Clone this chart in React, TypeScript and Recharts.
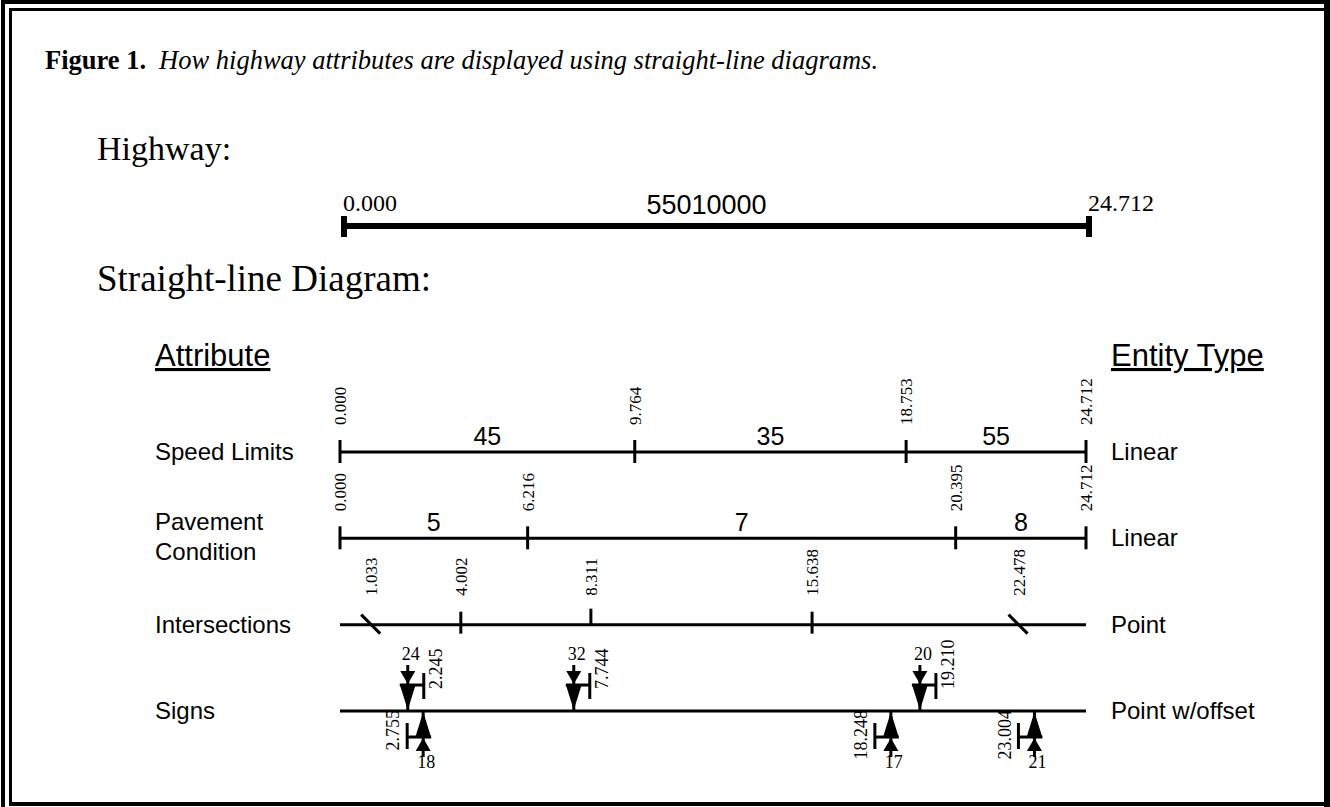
import React from 'react';
import { ComposedChart, Scatter, XAxis, YAxis, ReferenceLine } from 'recharts';

// ---------------- data ----------------
const titleLead = 'Figure 1.';
const titleText = 'How highway attributes are displayed using straight-line diagrams.';
const highwayId = '55010000';
const highwayEnds = [0, 24.712];

const attributeNames = ['Speed Limits', 'Pavement\nCondition', 'Intersections', 'Signs'];
const entityTypes = ['Linear', 'Linear', 'Point', 'Point w/offset'];

const speedBreaks = [0, 9.764, 18.753, 24.712];
const speedLimits = [45, 35, 55];
const pavementBreaks = [0, 6.216, 20.395, 24.712];
const pavementConditions = [5, 7, 8];
const intersectionMiles = [1.033, 4.002, 8.311, 15.638, 22.478];
const intersectionKinds = ['skew', 'cross', 'tee', 'cross', 'skew'];
const signMiles = [2.245, 2.755, 7.744, 18.248, 19.21, 23.004];
const signIds = [24, 18, 32, 17, 20, 21];
const signSides = ['above', 'below', 'above', 'below', 'above', 'below'];

// ---------------- derived tables ----------------
const ROW_SPEED = 0, ROW_PAVE = 1, ROW_INT = 2, ROW_SIGN = 3;
const routeStart = highwayEnds[0];
const routeEnd = highwayEnds[1];

const breakPoints = (breaks: number[], row: number) =>
  breaks.map((m) => ({ x: m, y: row, label: m.toFixed(3) }));
const segmentLabels = (breaks: number[], values: number[], row: number) =>
  values.map((v, i) => ({ x: (breaks[i] + breaks[i + 1]) / 2, y: row, label: String(v) }));

const speedPts = breakPoints(speedBreaks, ROW_SPEED);
const pavePts = breakPoints(pavementBreaks, ROW_PAVE);
const segLabels = [
  ...segmentLabels(speedBreaks, speedLimits, ROW_SPEED),
  ...segmentLabels(pavementBreaks, pavementConditions, ROW_PAVE),
];
const intPts = intersectionMiles.map((m, i) => ({ x: m, y: ROW_INT, label: m.toFixed(3), kind: intersectionKinds[i] }));
const signPts = signMiles.map((m, i) => ({ x: m, y: ROW_SIGN, label: m.toFixed(3), id: signIds[i], side: signSides[i] }));
const hwEndPts = highwayEnds.map((m) => ({ x: m, y: 0, label: m.toFixed(3) }));
const hwIdPt = [{ x: (highwayEnds[0] + highwayEnds[1]) / 2, y: 0, label: highwayId }];

// ---------------- styles ----------------
const SERIF = '"Liberation Serif", "Times New Roman", serif';
const SANS = '"Liberation Sans", Arial, sans-serif';
const W = 1330;
const H = 807;
const ROW_FONT = 24;

const RotLabel = ({ x, y, text, anchor = 'start', size = 17 }: any) => (
  <text
    x={x}
    y={y}
    transform={`rotate(-90 ${x} ${y})`}
    dy="0.35em"
    textAnchor={anchor}
    fontFamily={SERIF}
    fontSize={size}
    fill="#000"
  >
    {text}
  </text>
);

const BreakTick = (p: any) => {
  const { cx, cy, payload } = p;
  return (
    <g>
      <line x1={cx} x2={cx} y1={cy - 12} y2={cy + 11} stroke="#000" strokeWidth={3} />
      <RotLabel x={cx} y={cy - 27} text={payload.label} />
    </g>
  );
};

const SegLabel = (p: any) => {
  const { cx, cy, payload } = p;
  return (
    <text x={cx} y={cy - 7} textAnchor="middle" fontFamily={SANS} fontSize={25} fill="#000">
      {payload.label}
    </text>
  );
};

const IntTick = (p: any) => {
  const { cx, cy, payload } = p;
  let mark;
  if (payload.kind === 'skew') {
    mark = <line x1={cx - 10} y1={cy - 10} x2={cx + 9} y2={cy + 9} stroke="#000" strokeWidth={3} />;
  } else if (payload.kind === 'tee') {
    mark = <line x1={cx} x2={cx} y1={cy - 16} y2={cy} stroke="#000" strokeWidth={3} />;
  } else {
    mark = <line x1={cx} x2={cx} y1={cy - 13} y2={cy + 9} stroke="#000" strokeWidth={3} />;
  }
  return (
    <g>
      {mark}
      <RotLabel x={cx} y={cy - 29} text={payload.label} />
    </g>
  );
};

const SignMark = (p: any) => {
  const { cx, cy, payload } = p;
  const s = payload.side === 'below' ? 1 : -1; // away from line
  const Y = (t: number) => cy + s * t;
  const barX = cx - s * 16;
  const tri = (tip: number, base: number, hw: number) =>
    `${cx},${Y(tip)} ${cx - hw},${Y(base)} ${cx + hw},${Y(base)}`;
  return (
    <g>
      <line x1={cx} x2={cx} y1={Y(1)} y2={Y(46)} stroke="#000" strokeWidth={3} />
      <polygon points={tri(1, 25, 7.5)} fill="#000" />
      <polygon points={tri(27, 40, 7.5)} fill="#000" />
      <line x1={cx + s * 8} x2={barX} y1={Y(26)} y2={Y(26)} stroke="#000" strokeWidth={3} />
      <line x1={barX} x2={barX} y1={Y(12)} y2={Y(38)} stroke="#000" strokeWidth={3} />
      {s < 0 ? (
        <RotLabel x={cx + 28} y={cy - 22} text={payload.label} anchor="start" size={18} />
      ) : (
        <RotLabel x={cx - 30} y={cy - 1} text={payload.label} anchor="end" size={18} />
      )}
      <text
        x={cx + 3}
        y={s < 0 ? cy - 51 : cy + 57}
        textAnchor="middle"
        fontFamily={SERIF}
        fontSize={18}
        fill="#000"
      >
        {payload.id}
      </text>
    </g>
  );
};

const HwEnd = (p: any) => {
  const { cx, cy, payload } = p;
  return (
    <g>
      <rect x={cx - 3} y={cy - 10} width={6} height={21} fill="#000" />
      <text x={cx - 1} y={cy - 15} fontFamily={SERIF} fontSize={24} fill="#000">
        {payload.label}
      </text>
    </g>
  );
};

const HwId = (p: any) => {
  const { cx, cy, payload } = p;
  return (
    <text x={cx - 10} y={cy - 12} textAnchor="middle" fontFamily={SANS} fontSize={27} fill="#000">
      {payload.label}
    </text>
  );
};

// Row labels: attribute on the left, entity type on the right, placed by the y scale
const RowTick = (p: any) => {
  const { y, payload } = p;
  const lines = attributeNames[payload.value].split('\n');
  const left =
    lines.length === 1 ? (
      <text x={155} y={y + 8} fontFamily={SANS} fontSize={ROW_FONT} fill="#000">
        {lines[0]}
      </text>
    ) : (
      <text x={155} y={y - 8} fontFamily={SANS} fontSize={ROW_FONT} fill="#000">
        {lines.map((l, i) => (
          <tspan key={i} x={155} dy={i === 0 ? 0 : 30}>
            {l}
          </tspan>
        ))}
      </text>
    );
  return (
    <g>
      {left}
      <text x={1111} y={y + 8} fontFamily={SANS} fontSize={ROW_FONT} fill="#000">
        {entityTypes[payload.value]}
      </text>
    </g>
  );
};

const abs: React.CSSProperties = { position: 'absolute', left: 0, top: 0 };

export default function App() {
  return (
    <div style={{ position: 'absolute', left: 0, top: 0, width: W, height: H, background: '#fff' }}>
      <svg width={W} height={H} style={abs}>
        {/* frame */}
        <rect x={1} y={0} width={4} height={H} fill="#000" />
        <rect x={1} y={0} width={W - 1} height={4} fill="#000" />
        <rect x={9} y={8} width={3} height={797} fill="#000" />
        <rect x={9} y={8} width={1316} height={3} fill="#000" />
        <rect x={1324} y={0} width={6} height={H} fill="#000" />
        <rect x={9} y={802} width={1321} height={4} fill="#000" />
        {/* headings */}
        <text x={45} y={69} fontFamily={SERIF} fontSize={26.5} fill="#000">
          <tspan fontWeight="bold">{titleLead}</tspan>
          <tspan dx={13} fontStyle="italic">{titleText}</tspan>
        </text>
        <text x={97} y={160} fontFamily={SERIF} fontSize={34} fill="#000">Highway:</text>
        <text x={97} y={291} fontFamily={SERIF} fontSize={37} fill="#000">Straight-line Diagram:</text>
        <text x={155} y={366} fontFamily={SANS} fontSize={31} fill="#000" style={{ textDecoration: 'underline' }}>
          Attribute
        </text>
        <text x={1111} y={366} fontFamily={SANS} fontSize={31} fill="#000" style={{ textDecoration: 'underline' }}>
          Entity Type
        </text>
      </svg>

      {/* Highway chart */}
      <div style={abs}>
        <ComposedChart width={W} height={H} margin={{ top: 186, bottom: 541, left: 344, right: 241 }}>
          <XAxis type="number" dataKey="x" domain={[routeStart, routeEnd]} hide />
          <YAxis type="number" dataKey="y" domain={[-1, 1]} hide />
          <ReferenceLine
            segment={[{ x: routeStart, y: 0 }, { x: routeEnd, y: 0 }]}
            stroke="#000"
            strokeWidth={6}
          />
          <Scatter data={hwEndPts} shape={HwEnd} isAnimationActive={false} />
          <Scatter data={hwIdPt} shape={HwId} isAnimationActive={false} />
        </ComposedChart>
      </div>

      {/* Straight-line diagram chart */}
      <div style={abs}>
        <ComposedChart width={W} height={H} margin={{ top: 408.8, bottom: 52.8, left: 155, right: 244 }}>
          <XAxis type="number" dataKey="x" domain={[routeStart, routeEnd]} hide />
          <YAxis
            type="number"
            dataKey="y"
            domain={[-0.5, 3.5]}
            reversed
            ticks={[0, 1, 2, 3]}
            interval={0}
            width={185}
            axisLine={false}
            tickLine={false}
            tick={<RowTick />}
          />
          {[ROW_SPEED, ROW_PAVE, ROW_INT, ROW_SIGN].map((r) => (
            <ReferenceLine
              key={r}
              segment={[{ x: routeStart, y: r }, { x: routeEnd, y: r }]}
              stroke="#000"
              strokeWidth={3}
            />
          ))}
          <Scatter data={speedPts} shape={BreakTick} isAnimationActive={false} />
          <Scatter data={pavePts} shape={BreakTick} isAnimationActive={false} />
          <Scatter data={segLabels} shape={SegLabel} isAnimationActive={false} />
          <Scatter data={intPts} shape={IntTick} isAnimationActive={false} />
          <Scatter data={signPts} shape={SignMark} isAnimationActive={false} />
        </ComposedChart>
      </div>
    </div>
  );
}
